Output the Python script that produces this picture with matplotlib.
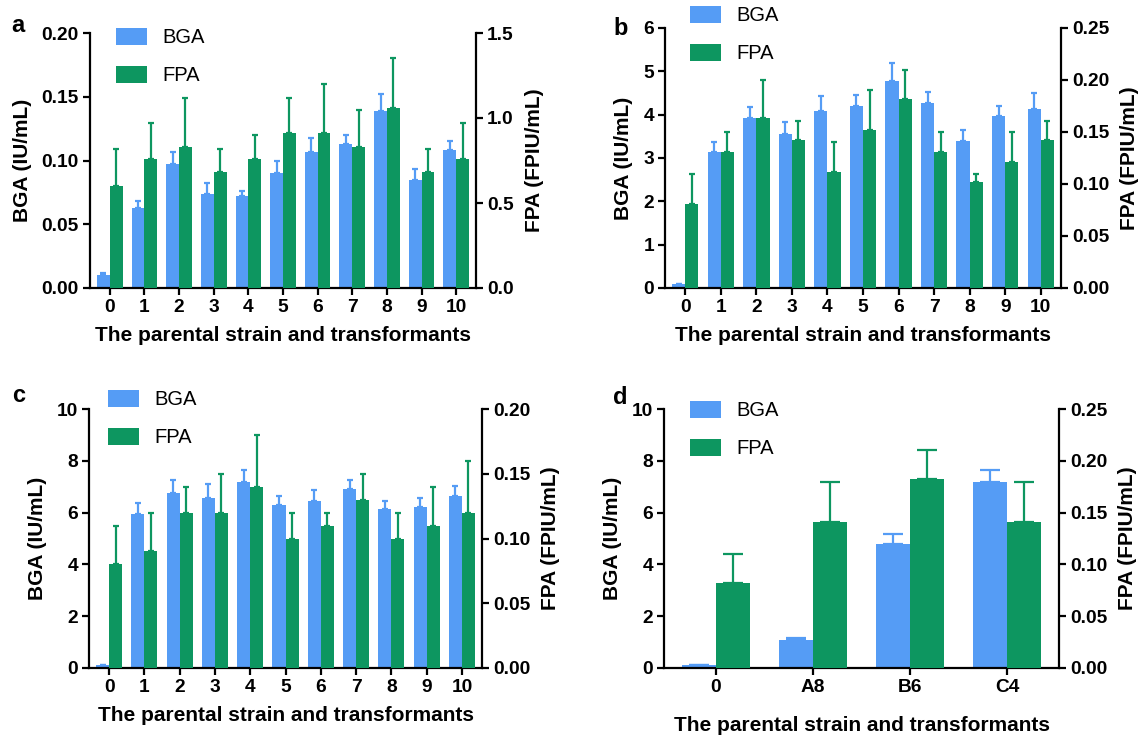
import numpy as np
import matplotlib
matplotlib.use("Agg")
import matplotlib.pyplot as plt
from matplotlib.patches import Patch

plt.rcParams['font.family'] = ['Liberation Sans', 'DejaVu Sans']

# ---- data ----
strains = ['0', '1', '2', '3', '4', '5', '6', '7', '8', '9', '10']
strains_d = ['0', 'A8', 'B6', 'C4']

a_bga = [0.010, 0.063, 0.097, 0.074, 0.072, 0.090, 0.107, 0.113, 0.139, 0.085, 0.108]
a_bga_err = [0.002, 0.005, 0.010, 0.008, 0.004, 0.010, 0.011, 0.007, 0.013, 0.008, 0.007]
a_fpa = [0.60, 0.76, 0.83, 0.68, 0.76, 0.91, 0.91, 0.83, 1.06, 0.68, 0.76]
a_fpa_err = [0.22, 0.21, 0.29, 0.14, 0.14, 0.21, 0.29, 0.22, 0.29, 0.14, 0.21]

b_bga = [0.10, 3.15, 3.92, 3.55, 4.08, 4.21, 4.78, 4.27, 3.40, 3.96, 4.12]
b_bga_err = [0.0, 0.22, 0.26, 0.29, 0.36, 0.24, 0.42, 0.25, 0.25, 0.23, 0.38]
b_fpa = [0.081, 0.131, 0.163, 0.142, 0.112, 0.152, 0.182, 0.131, 0.102, 0.121, 0.142]
b_fpa_err = [0.029, 0.019, 0.037, 0.019, 0.028, 0.038, 0.028, 0.019, 0.008, 0.029, 0.019]

c_bga = [0.10, 5.95, 6.77, 6.58, 7.19, 6.28, 6.43, 6.93, 6.13, 6.22, 6.66]
c_bga_err = [0.0, 0.41, 0.49, 0.52, 0.46, 0.38, 0.45, 0.31, 0.33, 0.33, 0.37]
c_fpa = [0.08, 0.09, 0.12, 0.12, 0.14, 0.10, 0.11, 0.13, 0.10, 0.11, 0.12]
c_fpa_err = [0.03, 0.03, 0.02, 0.03, 0.04, 0.02, 0.01, 0.02, 0.02, 0.03, 0.04]

d_bga = [0.10, 1.10, 4.79, 7.17]
d_bga_err = [0.0, 0.06, 0.40, 0.48]
d_fpa = [0.082, 0.141, 0.182, 0.141]
d_fpa_err = [0.028, 0.039, 0.028, 0.039]

BLUE = '#559CF5'
GREEN = '#0D9660'

W, H = 1140, 737
fig = plt.figure(figsize=(W / 100, H / 100), dpi=100)


def px_rect(left, top, right, bottom):
    return [left / W, 1 - bottom / H, (right - left) / W, (bottom - top) / H]


def panel(rect, labels, bga, bga_err, fpa, fpa_err, lylim, lticks, lfmt,
          rylim, rticks, rfmt, width, xpad, capsize, letter, letter_xy,
          leg_xy, xlabelpad):
    ax = fig.add_axes(px_rect(*rect))
    ax2 = ax.twinx()
    x = np.arange(len(labels))
    ax.bar(x, bga, width=-width, align='edge', color=BLUE, zorder=2)
    ax2.bar(x, fpa, width=width, align='edge', color=GREEN, zorder=2)
    ax.errorbar(x - width / 2, bga, yerr=[np.zeros(len(x)), bga_err], fmt='none',
                ecolor=BLUE, elinewidth=1.6, capsize=capsize, capthick=1.6, zorder=1)
    ax2.errorbar(x + width / 2, fpa, yerr=[np.zeros(len(x)), fpa_err], fmt='none',
                 ecolor=GREEN, elinewidth=1.6, capsize=capsize, capthick=1.6, zorder=1)

    ax.set_xlim(-xpad, len(x) - 1 + xpad)
    ax.set_ylim(*lylim)
    ax2.set_ylim(*rylim)
    ax.set_yticks(lticks)
    ax.set_yticklabels([lfmt.format(t) for t in lticks])
    ax2.set_yticks(rticks)
    ax2.set_yticklabels([rfmt.format(t) for t in rticks])
    ax.set_xticks(x)
    ax.set_xticklabels(labels)

    for a in (ax, ax2):
        a.spines['top'].set_visible(False)
        for s in ('left', 'right', 'bottom'):
            a.spines[s].set_linewidth(1.6)
        a.tick_params(width=1.6, length=5, labelsize=13.8, pad=3)
        for t in a.get_xticklabels() + a.get_yticklabels():
            t.set_fontweight('bold')
    ax.spines['right'].set_visible(False)
    ax2.spines['left'].set_visible(False)
    ax2.spines['bottom'].set_visible(False)

    ax.set_ylabel('BGA (IU/mL)', fontsize=15, fontweight='bold', labelpad=7)
    ax2.set_ylabel('FPA (FPIU/mL)', fontsize=15, fontweight='bold', labelpad=8)
    ax.set_xlabel('The parental strain and transformants', fontsize=15,
                  fontweight='bold', labelpad=xlabelpad)

    fig.text(letter_xy[0] / W, 1 - letter_xy[1] / H, letter, fontsize=17,
             fontweight='bold', va='top', ha='left')

    handles = [Patch(facecolor=BLUE, label='BGA'), Patch(facecolor=GREEN, label='FPA')]
    fig.legend(handles=handles, loc='upper left',
               bbox_to_anchor=(leg_xy[0] / W, 1 - leg_xy[1] / H),
               bbox_transform=fig.transFigure, frameon=False, fontsize=14.5,
               borderpad=0, borderaxespad=0, handlelength=1.55, handleheight=0.92,
               handletextpad=0.75, labelspacing=0.9)
    return ax, ax2


panel((90, 33, 476, 288), strains, a_bga, a_bga_err, a_fpa, a_fpa_err,
      (0, 0.2), [0, 0.05, 0.10, 0.15, 0.20], '{:.2f}',
      (0, 1.5), [0, 0.5, 1.0, 1.5], '{:.1f}',
      0.37, 0.57, 2, 'a', (11, 14), (116, 28), 7)

panel((665, 28, 1061, 288), strains, b_bga, b_bga_err, b_fpa, b_fpa_err,
      (0, 6), [0, 1, 2, 3, 4, 5, 6], '{:d}',
      (0, 0.25), [0, 0.05, 0.10, 0.15, 0.20, 0.25], '{:.2f}',
      0.37, 0.57, 2, 'b', (613, 17), (690, 6), 7)

panel((89, 409, 482, 668), strains, c_bga, c_bga_err, c_fpa, c_fpa_err,
      (0, 10), [0, 2, 4, 6, 8, 10], '{:d}',
      (0, 0.2), [0, 0.05, 0.10, 0.15, 0.20], '{:.2f}',
      0.37, 0.57, 2, 'c', (12, 384), (108, 390), 7)

panel((664, 409, 1059, 668), strains_d, d_bga, d_bga_err, d_fpa, d_fpa_err,
      (0, 10), [0, 2, 4, 6, 8, 10], '{:d}',
      (0, 0.25), [0, 0.05, 0.10, 0.15, 0.20, 0.25], '{:.2f}',
      0.35, 0.53, 7.5, 'd', (613, 386), (690, 401), 14)

fig.savefig('out.png', dpi=100)
